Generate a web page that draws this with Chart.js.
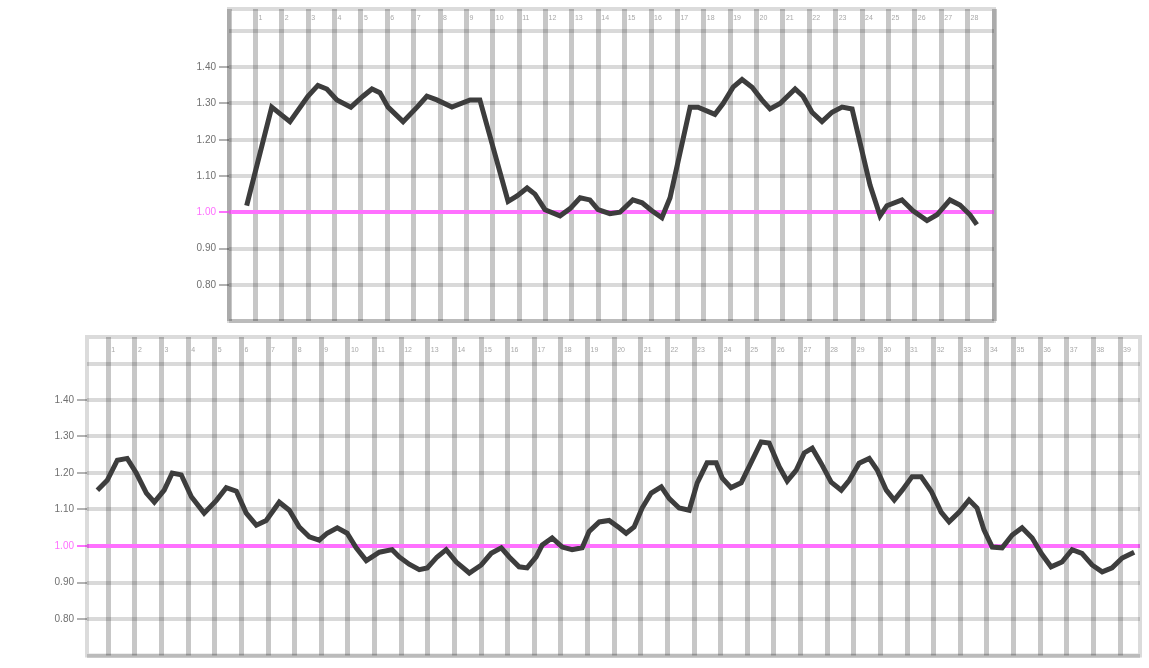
<!DOCTYPE html>
<html>
<head>
<meta charset="utf-8">
<script src="https://cdn.jsdelivr.net/npm/chart.js@4.4.1/dist/chart.umd.min.js"></script>
<style>
  html, body { margin: 0; padding: 0; background: #fff; }
  body { width: 1149px; height: 668px; position: relative; overflow: hidden; font-family: "Liberation Sans", Arial, sans-serif; }
  .box { position: absolute; }
  #topBox { left: 170px; top: 0; width: 828px; height: 330px; }
  #bottomBox { left: 30px; top: 330px; width: 1114px; height: 338px; }
</style>
</head>
<body>
<div class="box" id="topBox"><canvas id="topChart"></canvas></div>
<div class="box" id="bottomBox"><canvas id="bottomChart"></canvas></div>
<script>
// --- Data ---
const Y_MIN = 0.7;
const Y_MAX = 1.5;
const REF_VALUE = 1.0;

const topXLabels = ['1','2','3','4','5','6','7','8','9','10','11','12','13','14',
    '15','16','17','18','19','20','21','22','23','24','25','26','27','28'];
const topX = [0.67, 1.62, 2.31, 2.99, 3.37, 3.71, 4.09, 4.62, 5.08, 5.42,
    5.72, 6.03, 6.6, 7.13, 7.5, 7.88, 8.45, 9.14, 9.51, 10.58,
    10.92, 11.3, 11.6, 11.98, 12.55, 12.93, 13.31, 13.68, 13.99, 14.44,
    14.82, 15.31, 15.66, 16.03, 16.41, 16.72, 17.48, 17.78, 18.42, 18.73,
    19.11, 19.45, 19.83, 20.2, 20.51, 20.89, 21.46, 21.76, 22.1, 22.48,
    22.86, 23.24, 23.62, 24.3, 24.68, 24.94, 25.51, 25.93, 26.46, 26.84,
    27.33, 27.71, 28.09, 28.35];
const topY = [1.018, 1.29, 1.25, 1.32, 1.35, 1.34, 1.31, 1.29, 1.32, 1.34,
    1.33, 1.29, 1.25, 1.29, 1.32, 1.31, 1.29, 1.31, 1.31, 1.03,
    1.045, 1.067, 1.05, 1.007, 0.99, 1.01, 1.04, 1.034, 1.007, 0.996,
    1.0, 1.034, 1.026, 1.004, 0.985, 1.04, 1.29, 1.29, 1.27, 1.30,
    1.345, 1.366, 1.345, 1.31, 1.285, 1.30, 1.34, 1.32, 1.276, 1.25,
    1.276, 1.29, 1.285, 1.075, 0.99, 1.018, 1.034, 1.004, 0.977, 0.993,
    1.034, 1.02, 0.993, 0.966];

const bottomXLabels = ['1','2','3','4','5','6','7','8','9','10','11','12','13',
    '14','15','16','17','18','19','20','21','22','23','24','25','26','27',
    '28','29','30','31','32','33','34','35','36','37','38','39'];
const bottomX = [-0.41, -0.04, 0.34, 0.71, 1.05, 1.43, 1.73, 2.10, 2.40, 2.74,
    3.12, 3.60, 4.06, 4.43, 4.81, 5.18, 5.56, 5.93, 6.42, 6.80,
    7.17, 7.55, 7.92, 8.22, 8.60, 8.97, 9.31, 9.69, 10.18, 10.66,
    10.93, 11.30, 11.68, 11.98, 12.35, 12.69, 13.07, 13.56, 14.01, 14.38,
    14.76, 15.06, 15.43, 15.73, 16.07, 16.30, 16.67, 17.05, 17.42, 17.80,
    18.06, 18.44, 18.81, 19.19, 19.45, 19.75, 20.05, 20.39, 20.77, 21.07,
    21.44, 21.82, 22.12, 22.49, 22.83, 23.06, 23.39, 23.77, 24.15, 24.52,
    24.82, 25.20, 25.50, 25.84, 26.14, 26.44, 26.77, 27.15, 27.53, 27.83,
    28.20, 28.58, 28.88, 29.22, 29.52, 29.82, 30.19, 30.53, 30.91, 31.28,
    31.58, 31.96, 32.33, 32.63, 32.89, 33.20, 33.57, 33.95, 34.32, 34.70,
    35.04, 35.41, 35.82, 36.20, 36.57, 36.95, 37.33, 37.70, 38.08, 38.53];
const bottomY = [1.153, 1.18, 1.235, 1.24, 1.20, 1.145, 1.12, 1.153, 1.20, 1.195,
    1.135, 1.09, 1.125, 1.16, 1.15, 1.09, 1.057, 1.07, 1.12, 1.098,
    1.052, 1.025, 1.016, 1.035, 1.05, 1.035, 0.995, 0.96, 0.983, 0.99,
    0.97, 0.95, 0.935, 0.94, 0.97, 0.99, 0.956, 0.926, 0.948, 0.98,
    0.995, 0.97, 0.943, 0.94, 0.97, 1.003, 1.022, 0.997, 0.99, 0.995,
    1.04, 1.066, 1.07, 1.05, 1.035, 1.052, 1.104, 1.145, 1.162, 1.13,
    1.104, 1.098, 1.173, 1.228, 1.228, 1.186, 1.16, 1.173, 1.23, 1.285,
    1.282, 1.217, 1.178, 1.208, 1.255, 1.268, 1.227, 1.175, 1.153, 1.18,
    1.227, 1.24, 1.208, 1.153, 1.126, 1.153, 1.19, 1.19, 1.15, 1.093,
    1.066, 1.093, 1.126, 1.104, 1.044, 0.997, 0.995, 1.03, 1.05, 1.022,
    0.98, 0.943, 0.956, 0.99, 0.98, 0.948, 0.929, 0.94, 0.967, 0.983];

// --- Styles ---
const MAGENTA = '#ff70ff';
const LINE_COLOR = '#3d3d3d';
const V_GRID = 'rgba(0,0,0,0.22)';
const H_GRID = 'rgba(0,0,0,0.15)';

const isRef = (v) => Math.abs(v - REF_VALUE) < 1e-6;
const isEdge = (v) => Math.abs(v - Y_MIN) < 1e-6 || Math.abs(v - Y_MAX) < 1e-6;

// light frame round plot + label band
const framePlugin = {
    id: 'frame',
    beforeDatasetsDraw(chart) {
        const { ctx, chartArea } = chart;
        const band = chart.scales.x.top;
        ctx.save();
        ctx.strokeStyle = 'rgba(0,0,0,0.14)';
        ctx.lineWidth = 4;
        ctx.strokeRect(chartArea.left, band, chartArea.right - chartArea.left, chartArea.bottom - band);
        ctx.restore();
    }
};

function makeChart(id, xs, ys, labels, cfg) {
    const points = xs.map((x, i) => ({ x: x, y: ys[i] }));
    return new Chart(document.getElementById(id), {
        type: 'line',
        data: {
            datasets: [{
                data: points,
                borderColor: LINE_COLOR,
                borderWidth: 5,
                pointRadius: 0,
                tension: 0
            }]
        },
        options: {
            responsive: true,
            maintainAspectRatio: false,
            animation: false,
            devicePixelRatio: 1,
            layout: { padding: cfg.padding },
            plugins: { legend: { display: false }, tooltip: { enabled: false } },
            scales: {
                x: {
                    type: 'linear',
                    position: 'top',
                    min: cfg.xMin,
                    max: cfg.xMax,
                    afterFit: (s) => { s.height = cfg.band; },
                    border: { display: false },
                    grid: {
                        color: V_GRID,
                        lineWidth: 5,
                        tickLength: cfg.band,
                        tickColor: V_GRID,
                        tickWidth: 5
                    },
                    ticks: {
                        stepSize: 1,
                        includeBounds: false,
                        autoSkip: false,
                        maxRotation: 0,
                        align: 'start',
                        labelOffset: 3,
                        padding: cfg.labelPad,
                        color: '#a8a8a8',
                        font: { size: 7, family: 'Liberation Sans' },
                        callback: (v) => labels[v - cfg.labelStart] ?? ''
                    }
                },
                y: {
                    min: Y_MIN,
                    max: Y_MAX,
                    afterFit: (s) => { s.width = cfg.yWidth; },
                    border: { display: false },
                    grid: {
                        color: (c) => isRef(c.tick.value) ? MAGENTA : H_GRID,
                        lineWidth: 4,
                        tickLength: 10,
                        tickWidth: 2,
                        tickColor: (c) => isEdge(c.tick.value) ? 'rgba(0,0,0,0)' :
                            (isRef(c.tick.value) ? MAGENTA : 'rgba(0,0,0,0.3)')
                    },
                    ticks: {
                        stepSize: 0.1,
                        padding: 3,
                        color: (c) => isRef(c.tick.value) ? MAGENTA : '#707070',
                        font: { size: 10, family: 'Liberation Sans' },
                        callback: (v) => isEdge(v) ? '' : v.toFixed(2)
                    }
                }
            }
        },
        plugins: [framePlugin]
    });
}

makeChart('topChart', topX, topY, topXLabels, {
    xMin: 0, xMax: 29, labelStart: 1,
    band: 22, labelPad: -13, yWidth: 59,
    padding: { top: 9, bottom: 6, left: 0, right: 4 }
});

makeChart('bottomChart', bottomX, bottomY, bottomXLabels, {
    xMin: -0.8, xMax: 38.75, labelStart: 0,
    band: 26.5, labelPad: -17, yWidth: 57,
    padding: { top: 7, bottom: 12.5, left: 0, right: 4 }
});
</script>
</body>
</html>
